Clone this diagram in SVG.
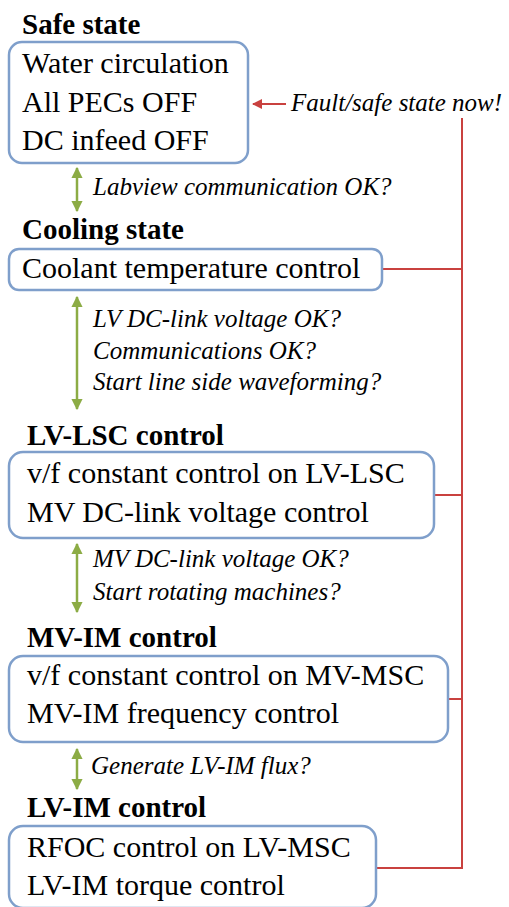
<svg xmlns="http://www.w3.org/2000/svg" width="509" height="907" viewBox="0 0 509 907">
<style>
.box{fill:#fff;stroke:#7f9fcb;stroke-width:2.5}
text{font-family:'Liberation Serif','DejaVu Serif','Times New Roman',serif;fill:#000}
.t{font-size:30px}
.h{font-size:29px;font-weight:bold}
.l{font-size:25px;font-style:italic}
.g{stroke:#8cac45;stroke-width:2.5;fill:none;marker-start:url(#ga);marker-end:url(#ga)}
.r{stroke:#c9413f;stroke-width:2;fill:none}
</style>
<defs>
<marker id="ga" viewBox="0 0 10 10" refX="9" refY="5" markerWidth="4.5" markerHeight="4.5" orient="auto-start-reverse" markerUnits="strokeWidth"><path d="M0,0 L10,5 L0,10 z" fill="#8cac45"/></marker>
<marker id="ra" viewBox="0 0 10 10" refX="9" refY="5" markerWidth="5" markerHeight="5" orient="auto" markerUnits="strokeWidth"><path d="M0,0 L10,5 L0,10 z" fill="#c9413f"/></marker>
</defs>
<g id="connectors">
<line class="g" x1="77" y1="168" x2="77" y2="211"/>
<line class="g" x1="77" y1="297" x2="77" y2="409"/>
<line class="g" x1="77" y1="544" x2="77" y2="612"/>
<line class="g" x1="77" y1="749" x2="77" y2="789"/>
<line class="r" x1="286" y1="104" x2="253" y2="104" marker-end="url(#ra)"/>
<polyline class="r" points="462,118 462,868 377,868"/>
<line class="r" x1="383" y1="269" x2="462" y2="269"/>
<line class="r" x1="434" y1="495" x2="462" y2="495"/>
<line class="r" x1="448" y1="699" x2="462" y2="699"/>
<text class="l" x="291" y="111" font-family="Liberation Serif, serif">Fault/safe state now!</text>
<text class="l" x="93" y="195">Labview communication OK?</text>
<text class="l" x="93" y="327">LV DC-link voltage OK?</text>
<text class="l" x="93" y="359">Communications OK?</text>
<text class="l" x="93" y="390">Start line side waveforming?</text>
<text class="l" x="93" y="567">MV DC-link voltage OK?</text>
<text class="l" x="93" y="600">Start rotating machines?</text>
<text class="l" x="91" y="774">Generate LV-IM flux?</text>
</g>
<g id="safe">
<text class="h" x="22" y="34">Safe state</text>
<rect class="box" x="9" y="42" width="239" height="121" rx="13"/>
<text class="t" x="22" y="73">Water circulation</text>
<text class="t" x="22" y="112">All PECs OFF</text>
<text class="t" x="22" y="150">DC infeed OFF</text>
</g>
<g id="cooling">
<text class="h" x="22" y="239">Cooling state</text>
<rect class="box" x="9" y="249" width="373" height="41" rx="10"/>
<text class="t" x="22" y="278">Coolant temperature control</text>
</g>
<g id="lvlsc">
<text class="h" x="27" y="445">LV-LSC control</text>
<rect class="box" x="9" y="452" width="425" height="86" rx="14"/>
<text class="t" x="27" y="483">v/f constant control on LV-LSC</text>
<text class="t" x="27" y="522">MV DC-link voltage control</text>
</g>
<g id="mvim">
<text class="h" x="27" y="647">MV-IM control</text>
<rect class="box" x="9" y="656" width="439" height="86" rx="14"/>
<text class="t" x="27" y="685">v/f constant control on MV-MSC</text>
<text class="t" x="27" y="723">MV-IM frequency control</text>
</g>
<g id="lvim">
<text class="h" x="27" y="817">LV-IM control</text>
<rect class="box" x="9" y="826" width="367" height="82" rx="14"/>
<text class="t" x="27" y="857">RFOC control on LV-MSC</text>
<text class="t" x="27" y="895">LV-IM torque control</text>
</g>
</svg>
